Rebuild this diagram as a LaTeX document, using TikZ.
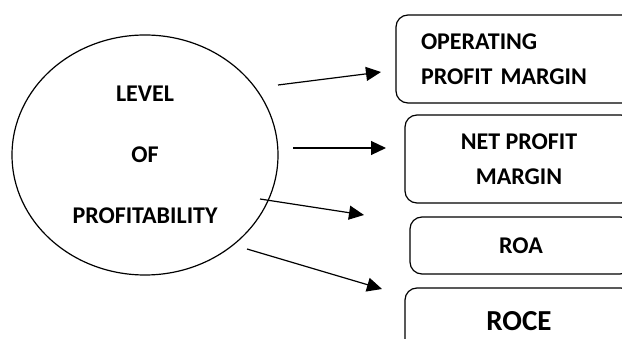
\documentclass[tikz,border=0pt]{standalone}
\usepackage{fontspec}
\setmainfont{Carlito}
\usetikzlibrary{shapes.geometric, arrows.meta, positioning}

\begin{document}
\begin{tikzpicture}[
    x=1pt, y=-1pt,
    font=\bfseries,
    ratio_oval/.style={draw, ellipse, line width=1.2pt, minimum width=266pt, minimum height=240pt, align=center, font=\bfseries\fontsize{24}{61}\selectfont},
    ratio_box/.style={draw, rounded corners=12pt, line width=1.2pt, align=center, inner sep=0pt, font=\bfseries\fontsize{24}{35}\selectfont},
    arrow/.style={-{Triangle[length=15pt, width=14pt]}, line width=1.2pt}
]
\useasboundingbox (0,0) rectangle (622,339);
\clip (0,0) rectangle (622,339);

% --- Main Circle ---
\node[ratio_oval] (lvl) at (145, 155) {LEVEL\\OF\\PROFITABILITY};

% --- Ratio Boxes ---
\node[ratio_box, minimum width=244pt, minimum height=88pt, text width=194pt, align=left] (opm) at (518, 59) {OPERATING\\PROFIT MARGIN};
\node[ratio_box, minimum width=228pt, minimum height=88pt] (npm) at (519, 159) {NET PROFIT\\MARGIN};
\node[ratio_box, minimum width=222pt, minimum height=57pt] (roa) at (521, 245.5) {ROA};
\node[ratio_box, minimum width=228pt, minimum height=66pt, font=\bfseries\fontsize{29}{34}\selectfont] (roce) at (519, 321) {ROCE};

% --- Arrow Ends ---
\coordinate (s1) at (278, 85);  \coordinate (e1) at (381, 72);
\coordinate (s2) at (293, 148); \coordinate (e2) at (386, 148);
\coordinate (s3) at (260, 199); \coordinate (e3) at (364, 215);
\coordinate (s4) at (247, 249); \coordinate (e4) at (382, 289);

% --- Arrows ---
\draw[arrow] (s1) -- (e1);
\draw[arrow] (s2) -- (e2);
\draw[arrow] (s3) -- (e3);
\draw[arrow] (s4) -- (e4);

\end{tikzpicture}
\end{document}
